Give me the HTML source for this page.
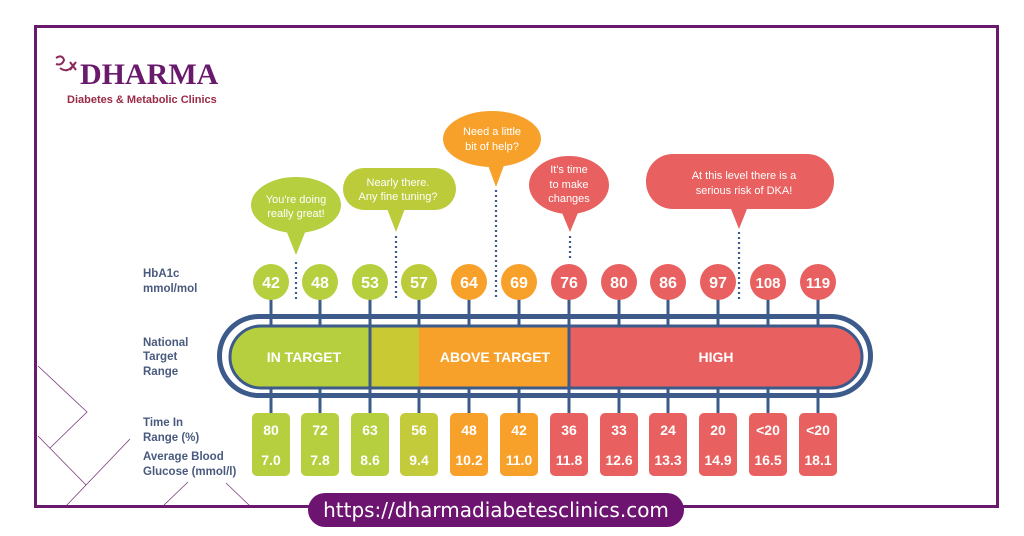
<!DOCTYPE html>
<html><head><meta charset="utf-8"><style>
html,body{margin:0;padding:0;background:#fff}
svg{display:block}
text{font-family:"Liberation Sans",sans-serif;font-weight:bold}
text.n{font-weight:normal}
</style></head><body>
<svg width="1024" height="536" viewBox="0 0 1024 536" xmlns="http://www.w3.org/2000/svg">
<rect x="0" y="0" width="1024" height="536" fill="#fff"/>
<g stroke="#7a3a7c" stroke-width="0.8" fill="none">
<path d="M38 366 L87 412 L50 448"/>
<path d="M38 436 L86 485"/>
<path d="M130 439 L66 506"/>
<path d="M188 482 L163 506"/>
<path d="M226 483 L250 506"/>
</g>
<rect x="35.5" y="26.5" width="962" height="480" fill="none" stroke="#6a1a6c" stroke-width="3"/>
<text x="80" y="84" font-size="30" fill="#6a1a6c" style="font-family:'Liberation Serif',serif;font-weight:bold">DHARMA</text>
<text x="67" y="103" font-size="11" fill="#9a2a45">Diabetes &amp; Metabolic Clinics</text>
<path d="M56 58 q6 -4 8 2 q-2 6 -8 4 M60 68 q8 6 14 -4 M70 62 l6 8 M76 62 l-6 8" stroke="#8a2a5a" stroke-width="2" fill="none"/>
<g fill="#4a5a7e" font-size="11.5">
<text x="143" y="277">HbA1c</text><text x="143" y="292">mmol/mol</text>
<text x="143" y="346">National</text><text x="143" y="360">Target</text><text x="143" y="375">Range</text>
<text x="143" y="426">Time In</text><text x="143" y="441">Range (%)</text>
<text x="143" y="460">Average Blood</text><text x="143" y="475">Glucose (mmol/l)</text>
</g>
<g font-size="11" fill="#fff" text-anchor="middle">
<path d="M286 230 L296 255 L306 230 Z" fill="#b5cf3f"/>
<ellipse cx="296" cy="205" rx="45" ry="28" fill="#b5cf3f"/>
<text class="n" x="296" y="203">You're doing</text><text class="n" x="296" y="217">really great!</text>
<path d="M386 206 L396 232 L406 206 Z" fill="#bccb39"/>
<rect x="343" y="168" width="113" height="42" rx="21" fill="#bccb39"/>
<text class="n" x="398" y="186">Nearly there.</text><text class="n" x="398" y="200">Any fine tuning?</text>
<path d="M486 160 L496 187 L506 160 Z" fill="#f7a12b"/>
<ellipse cx="492" cy="139" rx="49" ry="28" fill="#f7a12b"/>
<text class="n" x="492" y="135">Need a little</text><text class="n" x="492" y="150">bit of help?</text>
<path d="M560 208 L570 232 L580 208 Z" fill="#e8605f"/>
<ellipse cx="569" cy="185" rx="40" ry="29" fill="#e8605f"/>
<text class="n" x="569" y="173">It's time</text><text class="n" x="569" y="188">to make</text><text class="n" x="569" y="202">changes</text>
<path d="M729 204 L739 229 L749 204 Z" fill="#e8605f"/>
<rect x="646" y="154" width="188" height="55" rx="27" fill="#e8605f"/>
<text class="n" x="744" y="179">At this level there is a</text><text class="n" x="744" y="194">serious risk of DKA!</text>
</g>
<g stroke="#3c5a8a" stroke-width="2.2" stroke-dasharray="2 3" fill="none">
<path d="M296 262 V300"/><path d="M396 236 V300"/><path d="M496 190 V300"/><path d="M570 236 V260"/><path d="M739 232 V302"/>
</g>
<g stroke="#3c5a8a" stroke-width="3">
<path d="M271 298 V414 M320 298 V414 M370 298 V414 M419 298 V414 M469 298 V414 M519 298 V414 M569 298 V414 M619 298 V414 M668 298 V414 M718 298 V414 M768 298 V414 M818 298 V414"/>
</g>
<rect x="219.5" y="316.5" width="651" height="79" rx="39.5" fill="none" stroke="#3c5a8a" stroke-width="5"/>
<clipPath id="c"><rect x="230" y="326" width="632" height="62" rx="31"/></clipPath>
<g clip-path="url(#c)">
<rect x="225" y="320" width="146" height="72" fill="#b5cf3f"/>
<rect x="371" y="320" width="48" height="72" fill="#c9c934"/>
<rect x="419" y="320" width="150" height="72" fill="#f7a12b"/>
<rect x="569" y="320" width="300" height="72" fill="#e8605f"/>
<path d="M370 320 V392 M569 320 V392" stroke="#3c5a8a" stroke-width="3"/>
</g>
<rect x="230" y="326" width="632" height="62" rx="31" fill="none" stroke="#3c5a8a" stroke-width="3"/>
<g fill="#fff" font-size="14" text-anchor="middle">
<text x="304" y="362">IN TARGET</text><text x="495" y="362">ABOVE TARGET</text><text x="716" y="362">HIGH</text>
</g>
<g font-size="16" fill="#fff" text-anchor="middle">
<circle cx="271" cy="282" r="18" fill="#b5cf3f"/><text x="271" y="288">42</text>
<circle cx="320" cy="282" r="18" fill="#b5cf3f"/><text x="320" y="288">48</text>
<circle cx="370" cy="282" r="18" fill="#b5cf3f"/><text x="370" y="288">53</text>
<circle cx="419" cy="282" r="18" fill="#bccb39"/><text x="419" y="288">57</text>
<circle cx="469" cy="282" r="18" fill="#f7a12b"/><text x="469" y="288">64</text>
<circle cx="519" cy="282" r="18" fill="#f7a12b"/><text x="519" y="288">69</text>
<circle cx="569" cy="282" r="18" fill="#e8605f"/><text x="569" y="288">76</text>
<circle cx="619" cy="282" r="18" fill="#e8605f"/><text x="619" y="288">80</text>
<circle cx="668" cy="282" r="18" fill="#e8605f"/><text x="668" y="288">86</text>
<circle cx="718" cy="282" r="18" fill="#e8605f"/><text x="718" y="288">97</text>
<circle cx="768" cy="282" r="18" fill="#e8605f"/><text x="768" y="288" font-size="15">108</text>
<circle cx="818" cy="282" r="18" fill="#e8605f"/><text x="818" y="288" font-size="15">119</text>
</g>
<g font-size="14" fill="#fff" text-anchor="middle">
<rect x="252" y="413" width="38" height="63" rx="5" fill="#b5cf3f"/><text x="271" y="435">80</text><text x="271" y="465">7.0</text>
<rect x="301" y="413" width="38" height="63" rx="5" fill="#b5cf3f"/><text x="320" y="435">72</text><text x="320" y="465">7.8</text>
<rect x="351" y="413" width="38" height="63" rx="5" fill="#b5cf3f"/><text x="370" y="435">63</text><text x="370" y="465">8.6</text>
<rect x="400" y="413" width="38" height="63" rx="5" fill="#c3cb3a"/><text x="419" y="435">56</text><text x="419" y="465">9.4</text>
<rect x="450" y="413" width="38" height="63" rx="5" fill="#f7a12b"/><text x="469" y="435">48</text><text x="469" y="465">10.2</text>
<rect x="500" y="413" width="38" height="63" rx="5" fill="#f7a12b"/><text x="519" y="435">42</text><text x="519" y="465">11.0</text>
<rect x="550" y="413" width="38" height="63" rx="5" fill="#e8605f"/><text x="569" y="435">36</text><text x="569" y="465">11.8</text>
<rect x="600" y="413" width="38" height="63" rx="5" fill="#e8605f"/><text x="619" y="435">33</text><text x="619" y="465">12.6</text>
<rect x="649" y="413" width="38" height="63" rx="5" fill="#e8605f"/><text x="668" y="435">24</text><text x="668" y="465">13.3</text>
<rect x="699" y="413" width="38" height="63" rx="5" fill="#e8605f"/><text x="718" y="435">20</text><text x="718" y="465">14.9</text>
<rect x="749" y="413" width="38" height="63" rx="5" fill="#e8605f"/><text x="768" y="435">&lt;20</text><text x="768" y="465">16.5</text>
<rect x="799" y="413" width="38" height="63" rx="5" fill="#e8605f"/><text x="818" y="435">&lt;20</text><text x="818" y="465">18.1</text>
</g>
<rect x="308" y="493" width="376" height="34" rx="17" fill="#6d1470"/>
<text x="496" y="517" font-size="20" fill="#fff" text-anchor="middle" style="font-weight:normal;font-family:'DejaVu Sans',sans-serif">https://dharmadiabetesclinics.com</text>
</svg>
</body></html>
